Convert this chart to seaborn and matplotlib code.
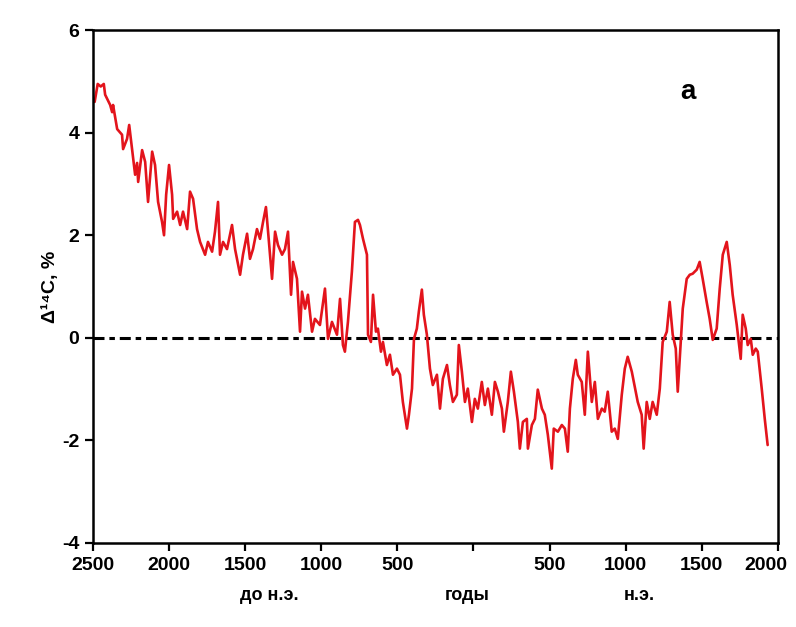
import seaborn as sns
import matplotlib.pyplot as plt
import matplotlib.transforms as mtransforms
import pandas as pd

# years (negative = BC), delta 14C in %
years = [
    -2490, -2470, -2450, -2430, -2421, -2388, -2375, -2369, -2342, -2310,
    -2303, -2277, -2263, -2244, -2224, -2211, -2204, -2178, -2158, -2139,
    -2112, -2093, -2073, -2047, -2034, -2020, -2001, -1981, -1974, -1948,
    -1928, -1909, -1882, -1863, -1843, -1817, -1797, -1764, -1745, -1718,
    -1699, -1679, -1666, -1646, -1620,
    -1587, -1567, -1534, -1515, -1488, -1469, -1449, -1423, -1403, -1383,
    -1364, -1350, -1324, -1304, -1285, -1258, -1239, -1219, -1199, -1186,
    -1160, -1140, -1127, -1107, -1088, -1061, -1042, -1009, -976, -956,
    -930, -897, -877, -858, -845, -825, -799, -779, -759,
    -746, -726, -700, -693, -674, -660, -641, -628, -608, -595,
    -569, -549, -529, -503, -483, -464, -437, -424, -404, -391,
    -372, -359, -339, -326, -306, -286, -267, -240, -220, -201,
    -174, -155, -135, -109, -96, -76, -56, -37, -10, 9,
    29, 55, 75, 95, 121,
    141, 161, 187, 200, 226, 246, 266, 292, 305, 325,
    351, 358, 384, 404, 423, 450, 469, 489, 515, 528,
    555, 581, 601, 620, 634, 653, 673, 686, 712, 732,
    752, 778, 798, 818, 844, 863, 883, 909, 929, 949,
    975, 995, 1014, 1041,
    1080, 1106, 1119, 1139, 1159, 1178, 1205, 1225, 1244, 1271,
    1290, 1310, 1330, 1343, 1363, 1376, 1402, 1422, 1441, 1468,
    1487, 1507, 1533, 1553, 1573, 1599, 1619, 1639, 1665, 1685,
    1704, 1731, 1757, 1770, 1790, 1803, 1823, 1836, 1856, 1869,
    1895, 1915, 1934,
]
delta14c = [
    4.6, 4.95, 4.9, 4.95, 4.74, 4.54, 4.4, 4.54, 4.07, 3.96,
    3.68, 3.88, 4.15, 3.68, 3.18, 3.41, 3.04, 3.66, 3.43, 2.65,
    3.63, 3.37, 2.65, 2.26, 2.0, 2.79, 3.37, 2.79, 2.32, 2.46,
    2.2, 2.46, 2.12, 2.85, 2.71, 2.12, 1.87, 1.62, 1.87, 1.68,
    2.07, 2.65, 1.62, 1.87, 1.73,
    2.2, 1.73, 1.23, 1.62, 2.03, 1.54, 1.73, 2.12, 1.93, 2.26,
    2.55, 2.07, 1.15, 2.07, 1.81, 1.62, 1.73, 2.07, 0.84, 1.48,
    1.15, 0.12, 0.9, 0.57, 0.84, 0.12, 0.37, 0.25, 0.96, -0.02,
    0.31, 0.06, 0.76, -0.14, -0.27, 0.31, 1.29, 2.26, 2.3,
    2.2, 1.93, 1.62, 0.06, -0.08, 0.84, 0.12, 0.18, -0.27, -0.08,
    -0.53, -0.33, -0.72, -0.6, -0.72, -1.25, -1.77, -1.5, -0.99, -0.02,
    0.18, 0.51, 0.94, 0.45, 0.06, -0.6, -0.92, -0.72, -1.38, -0.8,
    -0.53, -0.92, -1.25, -1.11, -0.14, -0.66, -1.25, -0.99, -1.64, -1.19,
    -1.38, -0.86, -1.31, -0.99, -1.5,
    -0.86, -1.05, -1.38, -1.83, -1.25, -0.66, -1.05, -1.64, -2.16, -1.64,
    -1.58, -2.16, -1.7, -1.58, -1.01, -1.38, -1.5, -1.89, -2.55, -1.77,
    -1.83, -1.7, -1.77, -2.22, -1.38, -0.8, -0.43, -0.72, -0.86, -1.5,
    -0.27, -1.25, -0.86, -1.58, -1.38, -1.44, -1.05, -1.83, -1.77, -1.97,
    -1.11, -0.6, -0.37, -0.66,
    -1.25, -1.5, -2.16, -1.25, -1.58, -1.25, -1.5, -0.99, -0.08, 0.12,
    0.7, 0.06, -0.21, -1.05, -0.08, 0.57, 1.15, 1.23, 1.25, 1.33,
    1.48, 1.15, 0.7, 0.37, -0.04, 0.18, 0.96, 1.62, 1.87, 1.42,
    0.84, 0.25, -0.41, 0.45, 0.18, -0.14, -0.02, -0.33, -0.21, -0.27,
    -0.99, -1.58, -2.09,
]

x_ticks = [-2500, -2000, -1500, -1000, -500, 0, 500, 1000, 1500, 2000]
x_tick_labels = ["2500", "2000", "1500", "1000", "500", "", "500", "1000", "1500", "2000"]
y_ticks = [-4, -2, 0, 2, 4, 6]

df = pd.DataFrame({"year": years, "d14c": delta14c})

sns.set_style("white")
plt.rcParams["font.family"] = ["Liberation Sans", "DejaVu Sans"]
plt.rcParams["font.weight"] = "bold"
plt.rcParams["axes.unicode_minus"] = False
plt.rcParams["text.color"] = "black"
plt.rcParams["axes.labelcolor"] = "black"
plt.rcParams["xtick.color"] = "black"
plt.rcParams["ytick.color"] = "black"

fig = plt.figure(figsize=(7.96, 6.27), dpi=100)
ax = fig.add_axes([0.117, 0.134, 0.86, 0.818])

ax.axhline(0, color="black", lw=2.2, linestyle=(0, (3.6, 1.6, 1.8, 1.6)), zorder=1)
sns.lineplot(data=df, x="year", y="d14c", ax=ax, color="#e3141c", lw=1.9,
             estimator=None, sort=False, zorder=2)

ax.set_xlim(-2500, 2000)
ax.set_ylim(-4, 6)
ax.set_xticks(x_ticks)
ax.set_xticklabels(x_tick_labels)
ax.set_yticks(y_ticks)
ax.tick_params(direction="out", length=6, width=1.6, labelsize=14, pad=4,
               bottom=True, left=True)
for lab in ax.get_xticklabels() + ax.get_yticklabels():
    lab.set_fontweight("bold")
# last label sits a little left of its tick, as in the scan
last = ax.get_xticklabels()[-1]
last.set_transform(last.get_transform() +
                   mtransforms.ScaledTranslation(-12 / 100, 0, fig.dpi_scale_trans))
for s in ax.spines.values():
    s.set_color("black")
    s.set_linewidth(1.8)

ax.set_xlabel("")
ax.set_ylabel("Δ¹⁴C, %", fontsize=14, fontweight="bold", labelpad=2)

ax.text(0.258, -0.103, "до н.э.", transform=ax.transAxes, ha="center", va="center",
        fontsize=13, fontweight="bold")
ax.text(0.546, -0.103, "годы", transform=ax.transAxes, ha="center", va="center",
        fontsize=13, fontweight="bold")
ax.text(0.798, -0.103, "н.э.", transform=ax.transAxes, ha="center", va="center",
        fontsize=13, fontweight="bold")
ax.text(0.869, 0.879, "а", transform=ax.transAxes, ha="center", va="center",
        fontsize=20, fontweight="bold")

fig.savefig("out.png", dpi=100, facecolor="white")
